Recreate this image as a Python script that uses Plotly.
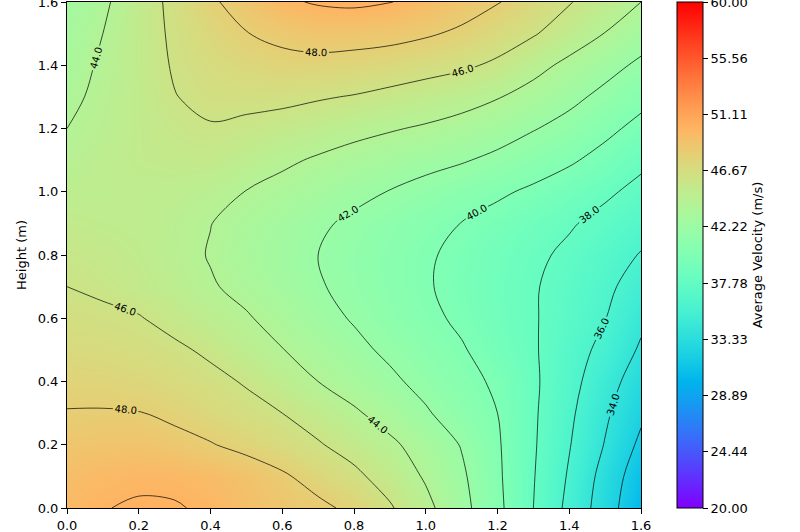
import numpy as np
import plotly.graph_objects as go

# grid coordinates (m)
width_m = [0.0, 0.1, 0.2, 0.3, 0.4, 0.5, 0.6, 0.7, 0.8, 0.9, 1.0, 1.1, 1.2, 1.3, 1.4, 1.5, 1.6]
height_m = [0.0, 0.1, 0.2, 0.3, 0.4, 0.5, 0.6, 0.7, 0.8, 0.9, 1.0, 1.1, 1.2, 1.3, 1.4, 1.5, 1.6]

# average velocity (m/s), one row per height
v_h00 = [49.6, 49.95, 50.15, 50.1, 49.8, 49.25, 48.7, 48.4, 47.6, 46.2, 44.5, 42.6, 40.45, 38.0, 35.5, 33.0, 30.3]
v_h01 = [49.3, 49.6, 49.75, 49.7, 49.45, 49.0, 48.25, 47.3, 46.4, 45.2, 43.8, 42.3, 40.3, 38.1, 35.8, 33.3, 30.8]
v_h02 = [48.7, 48.85, 48.9, 48.6, 48.1, 47.5, 46.85, 46.15, 45.3, 44.35, 43.2, 41.9, 40.2, 38.2, 36.1, 33.9, 31.6]
v_h03 = [48.08, 48.1, 48.06, 47.6, 47.1, 46.55, 46.0, 45.2, 44.25, 43.25, 42.2, 41.05, 40.0, 38.25, 36.35, 34.3, 32.35]
v_h04 = [47.5, 47.45, 47.25, 46.9, 46.45, 45.85, 44.9, 44.0, 43.15, 42.35, 41.45, 40.6, 39.7, 38.3, 36.65, 34.8, 33.0]
v_h05 = [47.0, 46.85, 46.6, 46.3, 45.7, 44.85, 44.05, 43.25, 42.45, 41.65, 40.9, 40.15, 39.2, 38.2, 36.8, 35.5, 33.75]
v_h06 = [46.5, 46.35, 46.1, 45.45, 44.8, 44.15, 43.4, 42.6, 41.85, 41.1, 40.4, 39.7, 38.9, 38.15, 37.15, 36.05, 34.4]
v_h07 = [46.0, 45.7, 45.3, 44.8, 44.15, 43.55, 42.85, 42.15, 41.5, 40.85, 40.15, 39.5, 38.85, 38.15, 37.3, 36.4, 35.15]
v_h08 = [45.6, 45.4, 45.1, 44.6, 43.9, 43.25, 42.6, 42.0, 41.4, 40.8, 40.2, 39.6, 38.95, 38.35, 37.65, 36.8, 35.9]
v_h09 = [45.2, 45.05, 44.95, 44.6, 44.03, 43.44, 42.85, 42.26, 41.68, 41.1, 40.54, 39.97, 39.37, 38.78, 38.18, 37.45, 36.67]
v_h10 = [44.8, 44.9, 44.95, 44.85, 44.55, 43.96, 43.46, 42.96, 42.45, 41.94, 41.39, 40.83, 40.28, 39.7, 39.0, 38.3, 37.5]
v_h11 = [44.4, 44.85, 45.15, 45.3, 45.3, 44.85, 44.3, 43.8, 43.38, 42.97, 42.56, 42.15, 41.6, 40.9, 40.25, 39.38, 38.4]
v_h12 = [44.0, 44.6, 45.15, 45.6, 45.88, 45.64, 45.33, 44.95, 44.48, 44.14, 43.8, 43.35, 42.8, 42.1, 41.4, 40.45, 39.47]
v_h13 = [43.6, 44.42, 45.17, 45.95, 46.4, 46.45, 46.4, 46.15, 45.9, 45.5, 45.1, 44.7, 44.1, 43.3, 42.45, 41.55, 40.56]
v_h14 = [43.3, 44.23, 45.16, 46.15, 46.8, 47.2, 47.5, 47.5, 47.35, 47.1, 46.7, 46.3, 45.7, 44.6, 43.55, 42.6, 41.67]
v_h15 = [43.05, 44.0, 45.15, 46.3, 47.2, 47.95, 48.4, 48.75, 48.7, 48.55, 48.2, 47.7, 46.9, 46.15, 45.05, 43.95, 42.82]
v_h16 = [42.8, 43.7, 45.1, 46.45, 47.75, 48.7, 49.75, 50.15, 50.3, 50.05, 49.5, 48.8, 48.1, 47.1, 46.1, 45.1, 44.0]

velocity = [v_h00, v_h01, v_h02, v_h03, v_h04, v_h05, v_h06, v_h07, v_h08,
            v_h09, v_h10, v_h11, v_h12, v_h13, v_h14, v_h15, v_h16]

axis_ticks = [0.0, 0.2, 0.4, 0.6, 0.8, 1.0, 1.2, 1.4, 1.6]
axis_ticktext = ["0.0", "0.2", "0.4", "0.6", "0.8", "1.0", "1.2", "1.4", "1.6"]
cbar_ticks = [20.00, 24.44, 28.89, 33.33, 37.78, 42.22, 46.67, 51.11, 55.56, 59.999]
cbar_ticktext = ["20.00", "24.44", "28.89", "33.33", "37.78", "42.22", "46.67", "51.11", "55.56", "60.00"]


def rainbow(t):
    r = abs(2 * t - 0.5)
    g = np.sin(np.pi * t)
    b = np.cos(np.pi * t / 2)
    r, g, b = [min(max(c, 0.0), 1.0) for c in (r, g, b)]
    return f"rgb({int(round(r*255))},{int(round(g*255))},{int(round(b*255))})"


colorscale = [[float(t), rainbow(t)] for t in np.linspace(0, 1, 41)]

FONT = "DejaVu Sans"

fill = go.Heatmap(
    x=width_m, y=height_m, z=velocity,
    zmin=20, zmax=60, zsmooth="best",
    colorscale=colorscale,
    colorbar=dict(
        x=1.0627, xanchor="left", xpad=0,
        y=0.5, yanchor="middle", len=1.0, lenmode="fraction", ypad=0,
        thickness=26,
        outlinecolor="black", outlinewidth=1,
        tickmode="array", tickvals=cbar_ticks, ticktext=cbar_ticktext,
        ticks="outside", ticklen=5, tickcolor="black",
        ticklabeloverflow="allow",
        tickfont=dict(family=FONT, size=13, color="black"),
        title=dict(text="Average Velocity (m/s)", side="right",
                   font=dict(family=FONT, size=13, color="black")),
    ),
    hoverinfo="skip",
)

lines = go.Contour(
    x=width_m, y=height_m, z=velocity,
    showscale=False,
    contours=dict(
        start=32, end=50, size=2,
        coloring="none",
        showlabels=True,
        labelformat=".1f",
        labelfont=dict(size=10, color="black", family=FONT),
    ),
    line=dict(color="black", width=0.7, smoothing=1.0),
    hoverinfo="skip",
)

fig = go.Figure([fill, lines])

axis_common = dict(
    range=[0, 1.6],
    tickmode="array", tickvals=axis_ticks, ticktext=axis_ticktext,
    ticks="outside", ticklen=5, tickcolor="black", tickwidth=1,
    showline=True, linecolor="black", linewidth=1, mirror=True,
    showgrid=False, zeroline=False, automargin=False,
    ticklabeloverflow="allow",
    tickfont=dict(family=FONT, size=13, color="black"),
)

fig.update_layout(
    width=800, height=532, autosize=False,
    margin=dict(l=67, r=159, t=2, b=24, autoexpand=False),
    paper_bgcolor="white", plot_bgcolor="white",
    xaxis=dict(**axis_common),
    yaxis=dict(**axis_common,
               title=dict(text="Height (m)", standoff=8,
                          font=dict(family=FONT, size=13, color="black"))),
    font=dict(family=FONT, size=13, color="black"),
)

fig.write_html(
    "out.html",
    config={"displayModeBar": False},
    post_script="document.body.style.margin='0';document.body.style.padding='0';",
)
